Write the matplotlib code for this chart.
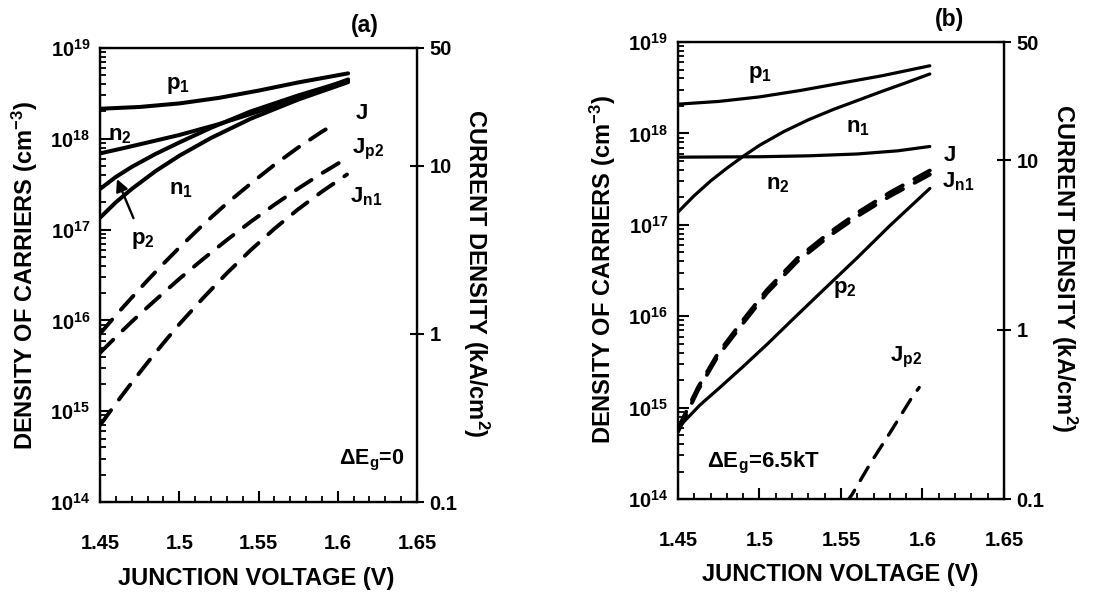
import matplotlib
matplotlib.use("Agg")
import matplotlib.pyplot as plt
from matplotlib.ticker import FixedLocator, NullLocator, NullFormatter, MultipleLocator, LogLocator

plt.rcParams["font.family"] = ["Liberation Sans", "DejaVu Sans"]
plt.rcParams["font.weight"] = "bold"
plt.rcParams["mathtext.fontset"] = "custom"
plt.rcParams["mathtext.rm"] = "Liberation Sans:bold"
plt.rcParams["mathtext.bf"] = "Liberation Sans:bold"
plt.rcParams["mathtext.it"] = "Liberation Sans:bold"
plt.rcParams["mathtext.default"] = "bf"

# ---- panel (a): dEg = 0  (carrier densities in cm^-3, currents in kA/cm^2) ----
v_p1_a = [1.45, 1.475, 1.50, 1.525, 1.55, 1.575, 1.6065]
p1_a = [2.14e18, 2.24e18, 2.45e18, 2.82e18, 3.39e18, 4.17e18, 5.25e18]
v_n2_a = [1.45, 1.465, 1.48, 1.50, 1.525, 1.55, 1.575, 1.6065]
n2_a = [6.9e17, 7.9e17, 9.1e17, 1.1e18, 1.45e18, 2.0e18, 2.8e18, 4.5e18]
v_pn_a = [1.45, 1.46, 1.47, 1.485, 1.50, 1.52, 1.545, 1.575, 1.6065]
p2_a = [2.8e17, 3.8e17, 4.9e17, 6.8e17, 9.1e17, 1.32e18, 2.0e18, 3.0e18, 4.4e18]
n1_a = [1.35e17, 2.0e17, 2.8e17, 4.4e17, 6.5e17, 1.02e18, 1.66e18, 2.7e18, 4.2e18]

v_J_a = [1.45, 1.46, 1.47, 1.48, 1.49, 1.50, 1.515, 1.53, 1.545, 1.56, 1.575, 1.59, 1.5983]
J_a = [1.0, 1.29, 1.64, 2.08, 2.61, 3.25, 4.45, 5.96, 7.8, 10.1, 12.8, 15.9, 17.7]
v_Jp2_a = [1.45, 1.46, 1.47, 1.48, 1.49, 1.50, 1.515, 1.53, 1.545, 1.56, 1.575, 1.59, 1.6046]
Jp2_a = [0.77, 0.957, 1.18, 1.44, 1.75, 2.12, 2.78, 3.61, 4.63, 5.85, 7.3, 9.0, 10.9]
v_Jn1_a = [1.45, 1.46, 1.47, 1.48, 1.49, 1.50, 1.515, 1.53, 1.545, 1.56, 1.575, 1.59, 1.6058]
Jn1_a = [0.286, 0.385, 0.512, 0.675, 0.881, 1.14, 1.63, 2.29, 3.14, 4.21, 5.5, 7.0, 8.85]

# ---- panel (b): dEg = 6.5kT ----
v_p1_b = [1.45, 1.475, 1.50, 1.525, 1.55, 1.575, 1.6045]
p1_b = [2.09e18, 2.24e18, 2.51e18, 2.95e18, 3.55e18, 4.27e18, 5.5e18]
v_n1_b = [1.45, 1.46, 1.47, 1.48, 1.49, 1.50, 1.515, 1.53, 1.545, 1.56, 1.575, 1.59, 1.6045]
n1_b = [1.38e17, 2.09e17, 3.02e17, 4.17e17, 5.62e17, 7.41e17, 1.05e18, 1.41e18,
        1.82e18, 2.29e18, 2.88e18, 3.59e18, 4.47e18]
v_n2_b = [1.45, 1.50, 1.53, 1.56, 1.585, 1.6045]
n2_b = [5.5e17, 5.56e17, 5.69e17, 5.96e17, 6.46e17, 7.2e17]
v_p2_b = [1.45, 1.4635, 1.475, 1.49, 1.505, 1.52, 1.54, 1.56, 1.58, 1.6045]
p2_b = [6.0e14, 1.07e15, 1.62e15, 2.82e15, 5.0e15, 9.1e15, 2.0e16, 4.37e16, 9.8e16, 2.5e17]

v_J_b = [1.45, 1.4623, 1.4745, 1.4905, 1.5046, 1.523, 1.5432, 1.5616, 1.58, 1.6045]
J_b = [0.261, 0.457, 0.724, 1.16, 1.72, 2.63, 3.76, 5.01, 6.46, 8.71]
Jn1_b = [0.25, 0.44, 0.70, 1.11, 1.65, 2.52, 3.6, 4.78, 6.15, 8.25]
v_Jp2_b = [1.553, 1.5567, 1.5683, 1.5806, 1.5935, 1.598]
Jp2_b = [0.095, 0.106, 0.164, 0.251, 0.398, 0.456]

x_ticks = [1.45, 1.5, 1.55, 1.6, 1.65]
x_ticklabels = ["1.45", "1.5", "1.55", "1.6", "1.65"]
n_ticks = [1e14, 1e15, 1e16, 1e17, 1e18, 1e19]
n_ticklabels = [r"$10^{%d}$" % e for e in range(14, 20)]
j_ticks = [0.1, 1, 10, 50]
j_ticklabels = ["0.1", "1", "10", "50"]

FS = 14.5      # tick labels
TFS = 16       # curve labels
LFS = 17       # axis titles
SOLID = dict(color="black", lw=2.9, solid_capstyle="round")
THIN = dict(color="black", lw=2.3, solid_capstyle="round")
DASH = dict(color="black", lw=2.8, dashes=(4.8, 3.4), dash_capstyle="round")

fig = plt.figure(figsize=(11.19, 5.92), dpi=100)


def setup(ax):
    ax.set_xlim(1.45, 1.65)
    ax.set_yscale("log")
    ax.set_ylim(1e14, 1e19)
    ax.xaxis.set_major_locator(FixedLocator(x_ticks))
    ax.set_xticklabels(x_ticklabels, fontsize=FS, fontweight="bold")
    ax.xaxis.set_minor_locator(MultipleLocator(0.01))
    ax.yaxis.set_major_locator(FixedLocator(n_ticks))
    ax.set_yticklabels(n_ticklabels, fontsize=FS)
    ax.yaxis.set_minor_locator(LogLocator(base=10, subs=range(2, 10)))
    ax.yaxis.set_minor_formatter(NullFormatter())
    ax.tick_params(which="major", direction="in", length=8, width=1.5)
    ax.tick_params(which="minor", direction="in", length=4.5, width=1.3)
    ax.tick_params(axis="y", which="major", pad=7)
    ax.tick_params(axis="x", which="major", pad=23)
    for s in ax.spines.values():
        s.set_linewidth(1.7)
    ax2 = ax.twinx()
    ax2.set_yscale("log")
    ax2.set_ylim(0.1, 50)
    ax2.yaxis.set_major_locator(FixedLocator(j_ticks))
    ax2.set_yticklabels(j_ticklabels, fontsize=FS, fontweight="bold")
    ax2.yaxis.set_minor_locator(NullLocator())
    ax2.tick_params(which="major", direction="inout", length=10, width=1.5, pad=4)
    return ax2


def lab(ax, x, y, s, fs=TFS):
    ax.text(x, y, s, fontsize=fs, ha="center", va="center")


# panel (a)
axa = fig.add_axes([0.0894, 0.152, 0.2833, 0.767])
axa2 = setup(axa)
axa.plot(v_p1_a, p1_a, **SOLID)
axa.plot(v_n2_a, n2_a, **SOLID)
axa.plot(v_pn_a, p2_a, **SOLID)
axa.plot(v_pn_a, n1_a, **SOLID)
axa2.plot(v_J_a, J_a, **DASH)
axa2.plot(v_Jp2_a, Jp2_a, **DASH)
axa2.plot(v_Jn1_a, Jn1_a, **DASH)
lab(axa, 1.4992, 3.9e18, r"$p_1$")
lab(axa, 1.4626, 1.1e18, r"$n_2$")
lab(axa, 1.5011, 2.75e17, r"$n_1$")
axa.annotate(r"$p_2$", xy=(1.4607, 3.6e17), xytext=(1.4770, 7.6e16), fontsize=TFS,
             ha="center", va="center",
             arrowprops=dict(arrowstyle="-|>", color="black", lw=1.7, mutation_scale=18,
                             shrinkA=7, shrinkB=0))
lab(axa, 1.6147, 1.9e18, r"$J$")
lab(axa, 1.6190, 7.6e17, r"$J_{p2}$")
lab(axa, 1.6180, 2.3e17, r"$J_{n1}$")
lab(axa, 1.6216, 2.9e14, r"$\Delta E_g$=0", 15.5)
axa.text(0.836, 1.05, "(a)", transform=axa.transAxes, fontsize=16.5, ha="center", va="center")

# panel (b)
axb = fig.add_axes([0.6059, 0.157, 0.2913, 0.772])
axb2 = setup(axb)
axb.plot(v_p1_b, p1_b, **THIN)
axb.plot(v_n1_b, n1_b, **THIN)
axb.plot(v_n2_b, n2_b, **THIN)
axb.plot(v_p2_b, p2_b, **THIN)
axb2.plot(v_J_b, J_b, **DASH)
axb2.plot(v_J_b, Jn1_b, **DASH)
axb2.plot(v_Jp2_b, Jp2_b, color="black", lw=2.4, dashes=(4.6, 3.4), dash_capstyle="round")
lab(axb, 1.5003, 4.4e18, r"$p_1$")
lab(axb, 1.5603, 1.17e18, r"$n_1$")
lab(axb, 1.5113, 2.75e17, r"$n_2$")
lab(axb, 1.6167, 5.8e17, r"$J$")
lab(axb, 1.6220, 2.95e17, r"$J_{n1}$")
lab(axb, 1.5524, 1.95e16, r"$p_2$")
lab(axb, 1.5900, 3.5e15, r"$J_{p2}$")
lab(axb, 1.5021, 2.5e14, r"$\Delta E_g$=6.5kT")
axb.text(0.834, 1.05, "(b)", transform=axb.transAxes, fontsize=16.5, ha="center", va="center")

# axis titles
fig.text(0.0223, 0.535, r"DENSITY OF CARRIERS (cm$^{-3}$)", rotation=90, fontsize=LFS,
         ha="center", va="center")
fig.text(0.539, 0.544, r"DENSITY OF CARRIERS (cm$^{-3}$)", rotation=90, fontsize=LFS,
         ha="center", va="center")
fig.text(0.4254, 0.539, r"CURRENT DENSITY (kA/cm$^{2}$)", rotation=270, fontsize=LFS,
         ha="center", va="center")
fig.text(0.951, 0.546, r"CURRENT DENSITY (kA/cm$^{2}$)", rotation=270, fontsize=LFS,
         ha="center", va="center")
fig.text(0.2288, 0.022, "JUNCTION VOLTAGE (V)", fontsize=LFS, ha="center", va="center")
fig.text(0.7507, 0.030, "JUNCTION VOLTAGE (V)", fontsize=LFS, ha="center", va="center")

fig.savefig("out.png", dpi=100, facecolor="white")
